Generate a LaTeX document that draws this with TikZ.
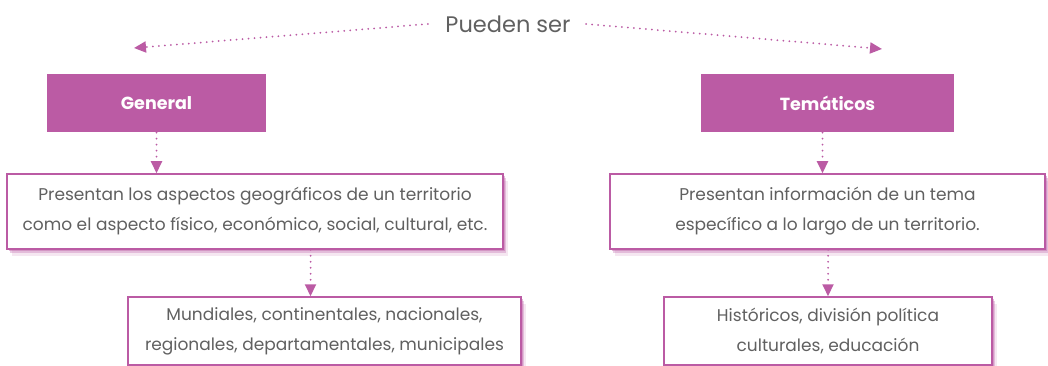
\documentclass[tikz,border=0pt]{standalone}
\usepackage{fontspec}
\setmainfont{Poppins}
\usepackage{tikz}
\usetikzlibrary{arrows.meta, positioning, shadows}
\definecolor{mapmagenta}{HTML}{BB5BA4}
\definecolor{mapgray}{HTML}{606060}

\begin{document}
\begin{tikzpicture}[
  x=1pt, y=-1pt,
  every node/.style={font=\fontsize{17}{30}\selectfont, text=mapgray},
  head/.style={fill=mapmagenta, minimum width=219pt, minimum height=58pt,
               text=white, font=\fontsize{17.5}{20}\selectfont\bfseries},
  info/.style={draw=mapmagenta, line width=1.5pt, fill=white, align=center,
               drop shadow={shadow xshift=5pt, shadow yshift=-7pt,
                            fill=mapmagenta, opacity=.15},
               drop shadow={shadow xshift=3pt, shadow yshift=-4pt,
                            fill=mapmagenta, opacity=.3},
               drop shadow={shadow xshift=1.5pt, shadow yshift=-2pt,
                            fill=mapmagenta, opacity=.4}},
  link/.style={-{Triangle[length=12pt, width=11pt]}, draw=mapmagenta,
               line width=2pt, line cap=round, dash pattern=on 0pt off 6pt},
]
\useasboundingbox (0,0) rectangle (1048,366);

\node[font=\fontsize{22.5}{26}\selectfont] (title) at (508,24) {Pueden ser};
\coordinate (leftstart)  at ([xshift=-14pt]title.west);
\coordinate (rightstart) at ([xshift=12pt]title.east);
\coordinate (leftend)  at (134,48);
\coordinate (rightend) at (882,49);

\node[head] (general) at (156.5,103.5) {General};
\node[head, minimum width=253pt] (tematicos) at (827.5,103.5) {Temáticos};

\node[info, minimum width=496pt, minimum height=75pt] (gdesc) at (255,211.5)
  {Presentan los aspectos geográficos de un territorio\\
   como el aspecto físico, económico, social, cultural, etc.};
\node[info, minimum width=435pt, minimum height=75pt] (tdesc) at (827.5,211.5)
  {Presentan información de un tema\\
   específico a lo largo de un territorio.};

\node[info, minimum width=393pt, minimum height=68pt] (gtypes) at (324.5,331)
  {Mundiales, continentales, nacionales,\\
   regionales, departamentales, municipales};
\node[info, minimum width=328pt, minimum height=68pt] (ttypes) at (828,331)
  {Históricos, división política\\
   culturales, educación};

\coordinate (tdrop) at ([xshift=-5pt]tematicos.south);
\coordinate (gdrop) at ([xshift=-14pt]gtypes.north);

\draw[link] (leftstart) -- (leftend);
\draw[link] (rightstart) -- (rightend);
\draw[link] (general.south) -- (general.south |- gdesc.north);
\draw[link] (tdrop) -- (tdrop |- tdesc.north);
\draw[link] (gdrop |- gdesc.south) -- (gdrop);
\draw[link] (ttypes.north |- tdesc.south) -- (ttypes.north);

\end{tikzpicture}
\end{document}
